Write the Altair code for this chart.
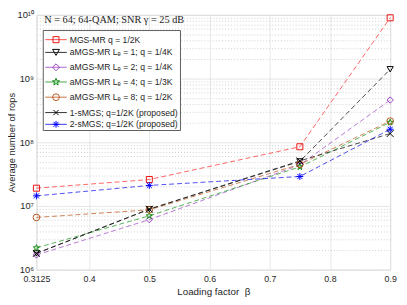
import math
import altair as alt
import pandas as pd

# ---------------- data ----------------
beta = [0.3125, 0.5, 0.75, 0.9]

series_names = [
    "MGS-MR q = 1/2K",
    "aMGS-MR L\u2091 = 1; q = 1/4K",
    "aMGS-MR L\u2091 = 2; q = 1/4K",
    "aMGS-MR L\u2091 = 4; q = 1/3K",
    "aMGS-MR L\u2091 = 8; q = 1/2K",
    "1-sMGS; q=1/2K (proposed)",
    "2-sMGS; q=1/2K (proposed)",
]
mgs_mr = [1.9e7, 2.6e7, 8.5e7, 9.0e9]
amgs_le1 = [1.8e6, 8.9e6, 5.0e7, 1.4e9]
amgs_le2 = [1.7e6, 6.1e6, 4.4e7, 4.6e8]
amgs_le4 = [2.2e6, 7.0e6, 4.1e7, 2.05e8]
amgs_le8 = [6.6e6, 8.7e6, 4.5e7, 2.15e8]
smgs_1 = [1.8e6, 8.9e6, 5.1e7, 1.37e8]
smgs_2 = [1.44e7, 2.1e7, 2.9e7, 1.6e8]
all_series = [mgs_mr, amgs_le1, amgs_le2, amgs_le4, amgs_le8, smgs_1, smgs_2]

x_ticks = [0.3125, 0.4, 0.5, 0.6, 0.7, 0.8, 0.9]

# ---------------- styles ----------------
line_colors = ["#ff3b3b", "#1a1a1a", "#a457c8", "#2e9e2e", "#c0642e", "#1a1a1a", "#1f1ff0"]
marker_colors = ["#ee1111", "#000000", "#9a45c0", "#108a10", "#b5581f", "#000000", "#0000ff"]


def star_path():
    pts = []
    for k in range(10):
        r = 1.0 if k % 2 == 0 else 0.42
        a = -math.pi / 2 + k * math.pi / 5
        pts.append((r * math.cos(a), r * math.sin(a)))
    return "M" + "L".join(f"{x:.3f},{y:.3f}" for x, y in pts) + "Z"


x_path = "M-1,-1L1,1M-1,1L1,-1"
ast_path = "M-1,0L1,0M0,-1L0,1M-0.72,-0.72L0.72,0.72M-0.72,0.72L0.72,-0.72"
shapes = ["square", "triangle-down", "diamond", star_path(), "circle", x_path, ast_path]
sizes = [38, 50, 50, 58, 48, 28, 48]

rows = []
for name, vals in zip(series_names, all_series):
    for b, v in zip(beta, vals):
        rows.append({"series": name, "beta": b, "rops": v})
df = pd.DataFrame(rows)

# y ticks: decades + minor
y_vals = [float(m * 10 ** k) for k in range(6, 10) for m in range(1, 10)] + [1e10]
major_test = "datum.value == 1e6 || datum.value == 1e7 || datum.value == 1e8 || datum.value == 1e9 || datum.value == 1e10"
y_label_expr = (
    "datum.value == 1e6 ? '10\u2076' : datum.value == 1e7 ? '10\u2077' : "
    "datum.value == 1e8 ? '10\u2078' : datum.value == 1e9 ? '10\u2079' : "
    "datum.value == 1e10 ? '10\u00b9\u2070' : ''"
)

x_enc = alt.X(
    "beta:Q",
    scale=alt.Scale(domain=[0.3125, 0.9], nice=False, zero=False),
    axis=alt.Axis(
        values=x_ticks,
        labelExpr="format(datum.value, '.4~f')",
        title="Loading factor\u00a0\u00a0\u03b2",
        grid=True,
        gridColor="#e2e2e2",
        gridWidth=0.8,
        ticks=False,
        domain=False,
        labelFlush=False,
        labelFontSize=9,
        labelPadding=5,
        titleFontSize=10,
        titleFontWeight="normal",
        titlePadding=3,
        labelColor="#262626",
        titleColor="#262626",
    ),
)
y_enc = alt.Y(
    "rops:Q",
    scale=alt.Scale(type="log", domain=[1e6, 1e10], nice=False),
    axis=alt.Axis(
        values=y_vals,
        labelExpr=y_label_expr,
        title="Average number of rops",
        grid=True,
        gridColor={"condition": {"test": major_test, "value": "#dcdcdc"}, "value": "#c4c4c4"},
        gridDash={"condition": {"test": major_test, "value": [1, 0]}, "value": [1, 2]},
        gridWidth=0.8,
        ticks=False,
        domain=False,
        labelFontSize=9.5,
        labelPadding=3,
        titleFontSize=9.5,
        titleFontWeight="normal",
        titlePadding=1,
        labelColor="#262626",
        titleColor="#262626",
    ),
)

lines = alt.Chart(df).mark_line(strokeDash=[5, 3], strokeWidth=0.8).encode(
    x=x_enc,
    y=y_enc,
    color=alt.Color("series:N", scale=alt.Scale(domain=series_names, range=line_colors), legend=None),
    detail="series:N",
)

points = alt.Chart(df).mark_point(filled=False, strokeWidth=1, opacity=1).encode(
    x=alt.X("beta:Q"),
    y=alt.Y("rops:Q"),
    color=alt.Color("series:N", scale=alt.Scale(domain=series_names, range=line_colors), legend=None),
    stroke=alt.Stroke("series:N", scale=alt.Scale(domain=series_names, range=marker_colors), legend=None),
    shape=alt.Shape("series:N", scale=alt.Scale(domain=series_names, range=shapes), legend=None),
    size=alt.Size("series:N", scale=alt.Scale(domain=series_names, range=sizes), legend=None),
)

one = alt.Data(values=[{"k": 1}])

annotation = alt.Chart(one).mark_text(
    align="left", baseline="middle", font="Liberation Serif", fontSize=10.5, color="#262626"
).encode(x=alt.value(8), y=alt.value(5), text=alt.value("N = 64; 64-QAM; SNR \u03b3 = 25 dB"))

legend_box = alt.Chart(one).mark_rect(fill="white", stroke="#333333", strokeWidth=0.8).encode(
    x=alt.value(7), x2=alt.value(147), y=alt.value(16), y2=alt.value(118)
)

legend_row_y = [25.3, 38.3, 53.5, 68.5, 84, 99.7, 111.7]
legend_layers = [legend_box]
for i, name in enumerate(series_names):
    ry = legend_row_y[i]
    legend_layers.append(
        alt.Chart(one).mark_rule(color=line_colors[i], strokeWidth=0.9).encode(
            x=alt.value(9), x2=alt.value(31), y=alt.value(ry)
        )
    )
    legend_layers.append(
        alt.Chart(one).mark_point(
            shape=shapes[i], filled=False, stroke=marker_colors[i], size=sizes[i], strokeWidth=1, opacity=1
        ).encode(x=alt.value(20), y=alt.value(ry))
    )
    legend_layers.append(
        alt.Chart(one).mark_text(
            align="left", baseline="middle", font="Liberation Sans", fontSize=8.8, color="#262626"
        ).encode(x=alt.value(34), y=alt.value(ry), text=alt.value(name))
    )

chart = alt.layer(lines, points, annotation, *legend_layers).properties(
    width=361,
    height=260,
    padding={"left": 29, "top": 4, "right": 9, "bottom": 30},
    autosize=alt.AutoSizeParams(type="none"),
).configure_view(
    stroke="#262626", strokeWidth=1
).configure(
    font="Liberation Sans"
)

chart.save("out.html", embed_options={"renderer": "svg", "actions": False})
